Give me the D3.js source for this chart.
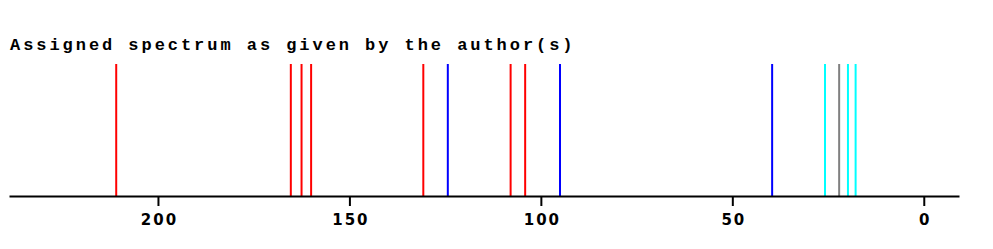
<!DOCTYPE html>
<html>
<head>
<meta charset="utf-8">
<script src="https://cdn.jsdelivr.net/npm/d3@7"></script>
<style>
  body { margin: 0; background: #fff; }
</style>
</head>
<body>
<div id="chart"></div>
<script>
// peak shifts (ppm) and their colour class
const shifts = [210.9, 165.3, 162.5, 160.0, 130.7, 124.3, 107.9, 104.1, 95.0, 39.6, 25.8, 22.1, 19.8, 17.8];
const kinds  = ["red", "red", "red", "red", "red", "blue", "red", "red", "blue", "blue", "cyan", "gray", "cyan", "cyan"];
const tickValues = [200, 150, 100, 50, 0];
const title = "Assigned spectrum as given by the author(s)";

const width = 993, height = 249;
const margin = {top: 64, right: 34, bottom: 53, left: 9};

const svg = d3.select("#chart")
    .append("svg")
    .attr("width", width)
    .attr("height", height);

const x = d3.scaleLinear()
    .domain([238.9, -9.2])
    .range([margin.left, width - margin.right]);

const y0 = height - margin.bottom;   // baseline of the sticks

const color = d3.scaleOrdinal()
    .domain(["red", "blue", "cyan", "gray"])
    .range(["#ff0000", "#0000ff", "#00ffff", "#808080"]);

svg.append("text")
    .attr("x", 10)
    .attr("y", 49.5)
    .style("font-family", "'Liberation Mono', 'Courier New', monospace")
    .style("font-weight", "bold")
    .style("font-size", "17px")
    .style("letter-spacing", "2.95px")
    .text(title);

// sticks
svg.append("g")
    .selectAll("line")
    .data(shifts)
    .enter()
    .append("line")
    .attr("x1", d => x(d))
    .attr("x2", d => x(d))
    .attr("y1", margin.top)
    .attr("y2", y0)
    .attr("stroke", (d, i) => color(kinds[i]))
    .attr("stroke-width", 2);

const axis = svg.append("g")
    .attr("transform", `translate(0,${y0})`)
    .call(d3.axisBottom(x).tickValues(tickValues).tickSize(10).tickSizeOuter(0).tickPadding(8));

axis.select(".domain").attr("stroke", "#000").attr("stroke-width", 2);
axis.selectAll(".tick line").attr("stroke", "#000").attr("stroke-width", 2);
axis.selectAll(".tick text")
    .attr("dx", "1px")
    .style("font-family", "'DejaVu Sans', Verdana, sans-serif")
    .style("font-weight", "bold")
    .style("font-size", "15px")
    .style("letter-spacing", "2px")
    .attr("fill", "#000");
</script>
</body>
</html>
